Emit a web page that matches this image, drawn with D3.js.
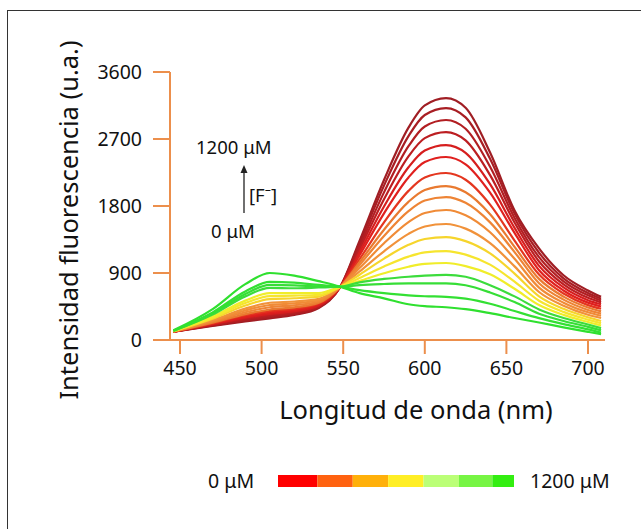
<!DOCTYPE html>
<html>
<head>
<meta charset="utf-8">
<script src="https://cdn.jsdelivr.net/npm/d3@7"></script>
<style>
  body { margin: 0; background: #fff; }
  svg text { font-family: "Noto Sans", "Open Sans", sans-serif; fill: #111; }
</style>
</head>
<body>
<div id="chartDiv"></div>
<script>
var wavelengths = [446, 470, 490, 505, 520, 535, 548, 560, 575, 590, 600, 613, 625, 640, 655, 670, 685, 700, 708];

// one spectrum per [F-] addition, 0 uM (dark red) -> 1200 uM (green)
var spectra = [
  [110, 190, 250, 291, 336, 430, 705, 1331, 2150, 2852, 3151, 3250, 3120, 2519, 1739, 1230, 870, 665, 580],
  [110, 195, 262, 305, 348, 438, 706, 1298, 2074, 2739, 3022, 3116, 2991, 2434, 1698, 1172, 829, 632, 555],
  [111, 201, 274, 320, 361, 447, 706, 1259, 1983, 2603, 2868, 2955, 2837, 2326, 1640, 1113, 788, 600, 530],
  [111, 206, 286, 335, 374, 456, 707, 1220, 1891, 2467, 2712, 2793, 2681, 2215, 1578, 1055, 747, 567, 505],
  [112, 212, 299, 350, 387, 465, 707, 1178, 1793, 2320, 2545, 2619, 2514, 2093, 1506, 996, 706, 535, 480],
  [113, 219, 315, 370, 405, 477, 708, 1139, 1702, 2184, 2390, 2458, 2360, 1979, 1438, 938, 665, 502, 450],
  [113, 227, 332, 390, 422, 489, 709, 1086, 1580, 2003, 2183, 2243, 2153, 1819, 1335, 879, 624, 469, 420],
  [114, 234, 348, 410, 439, 500, 709, 1044, 1481, 1856, 2015, 2068, 1985, 1690, 1251, 821, 583, 437, 385],
  [115, 245, 373, 440, 466, 518, 710, 1008, 1397, 1731, 1873, 1920, 1843, 1580, 1181, 762, 542, 404, 355],
  [116, 256, 397, 470, 492, 536, 711, 966, 1299, 1584, 1706, 1746, 1676, 1447, 1091, 704, 501, 372, 325],
  [117, 267, 422, 500, 517, 553, 711, 920, 1192, 1426, 1525, 1558, 1496, 1301, 989, 645, 460, 339, 295],
  [118, 286, 463, 550, 561, 583, 712, 877, 1093, 1278, 1357, 1383, 1328, 1163, 892, 587, 419, 306, 255],
  [120, 300, 496, 590, 596, 607, 713, 832, 987, 1120, 1176, 1195, 1147, 1012, 783, 528, 378, 274, 225],
  [121, 315, 529, 630, 631, 631, 714, 793, 896, 984, 1022, 1034, 993, 882, 688, 470, 337, 241, 195],
  [123, 341, 586, 700, 695, 705, 715, 775, 820, 850, 865, 875, 850, 735, 586, 411, 296, 208, 160],
  [124, 356, 619, 740, 735, 720, 715, 738, 752, 760, 760, 760, 735, 638, 509, 352, 255, 176, 130],
  [125, 371, 652, 780, 770, 740, 716, 670, 630, 600, 588, 580, 555, 487, 389, 294, 214, 143, 100],
  [130, 415, 750, 900, 865, 790, 717, 630, 560, 480, 455, 440, 415, 360, 295, 235, 170, 110, 78]
];

var spectraColors = ['#a01e24', '#a81e23', '#b21e22', '#bc1e21', '#d61e1e', '#e0201e', '#e4361f', '#e97a30',
                     '#ee8435', '#f08b37', '#f1923a', '#f6d52c', '#f6e52e', '#f0ed2a', '#3cdc3c', '#36de36', '#33e033', '#2fe02f'];

var xTicks = [450, 500, 550, 600, 650, 700];
var yTicks = [0, 900, 1800, 2700, 3600];

// colour key under the chart (edges in uM)
var legendEdges = [0, 200, 380, 560, 740, 920, 1090, 1200];
var legendColors = ['#ff0000', '#ff6210', '#ffb00a', '#ffee26', '#bbff77', '#77f544', '#33ee11'];

var width = 641;
var height = 529;
var axisColor = '#ec8f4c';

var svg = d3.select('#chartDiv')
  .append('svg')
  .attr('width', width)
  .attr('height', height);

// frame
svg.append('rect')
  .attr('x', 7.5).attr('y', 10.5)
  .attr('width', 660).attr('height', 560)
  .attr('fill', 'none')
  .attr('stroke', '#333')
  .attr('stroke-width', 1);

var x = d3.scaleLinear().domain([450, 700]).range([180, 588]);
var y = d3.scaleLinear().domain([0, 3600]).range([340, 72]);

// axes
svg.append('line')
  .attr('x1', 170).attr('x2', 170).attr('y1', y(3600)).attr('y2', y(0))
  .attr('stroke', axisColor).attr('stroke-width', 2);
svg.append('line')
  .attr('x1', 153).attr('x2', 605).attr('y1', y(0)).attr('y2', y(0))
  .attr('stroke', axisColor).attr('stroke-width', 2);

svg.selectAll('.ytick')
  .data(yTicks)
  .enter()
  .append('line')
  .attr('class', 'ytick')
  .attr('x1', 153).attr('x2', 170)
  .attr('y1', function (d) { return y(d); })
  .attr('y2', function (d) { return y(d); })
  .attr('stroke', axisColor).attr('stroke-width', 2);

svg.selectAll('.ylabel')
  .data(yTicks)
  .enter()
  .append('text')
  .attr('class', 'ylabel')
  .attr('x', 142)
  .attr('y', function (d) { return y(d); })
  .attr('dy', '0.35em')
  .attr('text-anchor', 'end')
  .style('font-size', '19.5px')
  .text(function (d) { return d; });

svg.selectAll('.xtick')
  .data(xTicks)
  .enter()
  .append('line')
  .attr('class', 'xtick')
  .attr('x1', function (d) { return x(d); })
  .attr('x2', function (d) { return x(d); })
  .attr('y1', y(0)).attr('y2', y(0) + 14)
  .attr('stroke', axisColor).attr('stroke-width', 2);

svg.selectAll('.xlabel')
  .data(xTicks)
  .enter()
  .append('text')
  .attr('class', 'xlabel')
  .attr('x', function (d) { return x(d); })
  .attr('y', 368)
  .attr('dy', '0.35em')
  .attr('text-anchor', 'middle')
  .style('font-size', '19.5px')
  .text(function (d) { return d; });

// axis titles
svg.append('text')
  .attr('transform', 'translate(69,220) rotate(-90)')
  .attr('dy', '0.35em')
  .attr('text-anchor', 'middle')
  .style('font-size', '25.5px')
  .text('Intensidad fluorescencia (u.a.)');

svg.append('text')
  .attr('x', 416).attr('y', 410)
  .attr('dy', '0.35em')
  .attr('text-anchor', 'middle')
  .style('font-size', '25.5px')
  .text('Longitud de onda (nm)');

// spectra
var line = d3.line()
  .x(function (d, i) { return x(wavelengths[i]); })
  .y(function (d) { return y(d); })
  .curve(d3.curveMonotoneX);

svg.selectAll('.spectrum')
  .data(spectra)
  .enter()
  .append('path')
  .attr('class', 'spectrum')
  .attr('d', line)
  .attr('fill', 'none')
  .attr('stroke', function (d, i) { return spectraColors[i]; })
  .attr('stroke-width', 2.2);

// [F-] annotation
svg.append('text')
  .attr('x', 196).attr('y', 148).attr('dy', '0.35em')
  .style('font-size', '18.5px')
  .text('1200 \u03bcM');
svg.append('line')
  .attr('x1', 244).attr('x2', 244).attr('y1', 213).attr('y2', 172)
  .attr('stroke', '#222').attr('stroke-width', 1.3);
svg.append('path')
  .attr('d', 'M244,165 L240.5,173 L247.5,173 Z')
  .attr('fill', '#222');
svg.append('text')
  .attr('x', 249).attr('y', 196).attr('dy', '0.35em')
  .style('font-size', '18.5px')
  .text('[F\u207b]');
svg.append('text')
  .attr('x', 211).attr('y', 232).attr('dy', '0.35em')
  .style('font-size', '18.5px')
  .text('0 \u03bcM');

// colour key
var legendX = d3.scaleLinear().domain([0, 1200]).range([278, 514]);

svg.selectAll('.legendcell')
  .data(legendColors)
  .enter()
  .append('rect')
  .attr('class', 'legendcell')
  .attr('x', function (d, i) { return legendX(legendEdges[i]); })
  .attr('width', function (d, i) { return legendX(legendEdges[i + 1]) - legendX(legendEdges[i]); })
  .attr('y', 475)
  .attr('height', 12)
  .attr('fill', function (d) { return d; });

svg.append('text')
  .attr('x', 208).attr('y', 481).attr('dy', '0.35em')
  .style('font-size', '19.5px')
  .text('0 \u03bcM');
svg.append('text')
  .attr('x', 530).attr('y', 481).attr('dy', '0.35em')
  .style('font-size', '19.5px')
  .text('1200 \u03bcM');
</script>
</body>
</html>
